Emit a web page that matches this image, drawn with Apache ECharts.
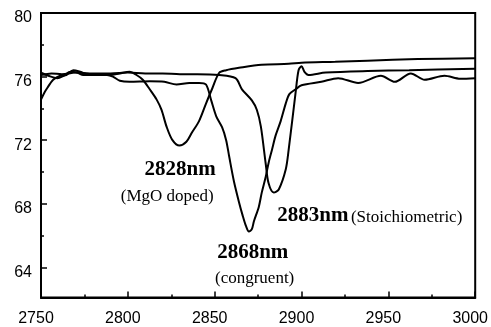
<!DOCTYPE html>
<html><head><meta charset="utf-8">
<script src="https://cdn.jsdelivr.net/npm/echarts@6/dist/echarts.min.js"></script>
<style>html,body{margin:0;padding:0;background:#fff}#c{width:491px;height:327px}</style>
</head><body><div id="c"></div>
<script>
// Axis ticks
const xTickStep = 50;
const yTicks = [64, 68, 72, 76, 80];
const yMinorTicks = [66, 70, 74, 78];

// MgO doped (absorption dip at 2828 nm)
const mgoX = [2750, 2752, 2753.7, 2757, 2761, 2764.6, 2768.6, 2772.6, 2778, 2784, 2789.7, 2795.4, 2801, 2805, 2808.6, 2812.6, 2816.6, 2819.4, 2822.3, 2825.7, 2829.7, 2833.7, 2837, 2841, 2845, 2848.6, 2852.6, 2856.6, 2864, 2877, 2892.6, 2900, 2919.4, 2938, 2966.9, 3000];
const mgoY = [74.55, 75.0, 75.3, 75.8, 76.05, 76.1, 76.4, 76.3, 76.1, 76.15, 76.1, 76.2, 76.3, 76.1, 75.8, 75.2, 74.55, 73.9, 72.85, 72.0, 71.66, 71.9, 72.5, 73.2, 74.3, 75.25, 76.24, 76.4, 76.55, 76.75, 76.8, 76.87, 76.93, 77.0, 77.1, 77.15];

// Congruent (dip at 2868 nm)
const congX = [2750, 2754.3, 2759.4, 2763, 2767, 2771, 2774.3, 2781, 2788, 2791.4, 2795.4, 2801, 2812.6, 2821, 2828, 2835.4, 2841, 2845, 2848, 2850.9, 2854.3, 2856.6, 2858.3, 2861.1, 2864, 2866, 2868, 2869.7, 2871.4, 2872.6, 2875.4, 2877.1, 2879.4, 2881.1, 2883, 2885.1, 2888, 2890.9, 2893, 2896.6, 2900, 2911.4, 2921.1, 2932.6, 2945.7, 2953.7, 2962.9, 2970.9, 2982.3, 2991.4, 3000];
const congY = [76.24, 76.05, 75.9, 76.05, 76.3, 76.24, 76.1, 76.1, 76.1, 76.0, 75.74, 75.67, 75.7, 75.67, 75.5, 75.6, 75.6, 75.5, 74.5, 73.5, 72.8, 72.0, 71.0, 69.4, 68.1, 67.3, 66.6, 66.25, 66.4, 66.9, 67.8, 68.7, 69.7, 70.6, 71.4, 72.3, 73.2, 74.3, 74.9, 75.2, 75.45, 75.67, 75.9, 75.6, 76.05, 75.67, 76.2, 75.8, 76.05, 75.86, 75.9];

// Stoichiometric (dip at 2883 nm)
const stoiX = [2750, 2756, 2762, 2770, 2778, 2790, 2800, 2810, 2820, 2830, 2840, 2852.6, 2862, 2865.7, 2871.4, 2874.3, 2876.6, 2879.4, 2881, 2884, 2886.9, 2890.9, 2892.6, 2896.6, 2898.3, 2900, 2901.7, 2904, 2914, 2938, 2962, 3000];
const stoiY = [76.1, 76.2, 76.15, 76.25, 76.2, 76.2, 76.25, 76.2, 76.2, 76.15, 76.15, 76.1, 75.9, 75.2, 74.5, 73.9, 72.85, 70.5, 69.3, 68.7, 68.9, 70.15, 71.4, 75.0, 76.4, 76.65, 76.3, 76.1, 76.25, 76.35, 76.4, 76.5];

// Annotation texts and their anchors (data coordinates)
const peakLabels = [
  { text: '2828nm', x: 2830.1, y: 70.14 },
  { text: '2868nm', x: 2871.9, y: 64.93 },
  { text: '2883nm', x: 2906.5, y: 67.26 }
];
const sampleLabels = [
  { text: '(MgO doped)', x: 2822.7, y: 68.45 },
  { text: '(congruent)', x: 2873.0, y: 63.3 },
  { text: '(Stoichiometric)', x: 2960.5, y: 67.13 }
];

const zip = (xs, ys) => xs.map((x, i) => [x, ys[i]]);
const lineSeries = (name, xs, ys) => ({
  name, type: 'line', data: zip(xs, ys), symbol: 'none', smooth: 0.3,
  lineStyle: { color: '#000', width: 2 }, z: 3, silent: true
});
const labelSeries = (arr, font) => {
  const lbl = Object.assign({ show: true, position: 'inside', color: '#000', opacity: 1, textBorderWidth: 0, fontFamily: 'Liberation Serif' }, font);
  return {
    type: 'scatter', symbolSize: 0, silent: true, z: 5,
    itemStyle: { color: '#000', opacity: 1 },
    emphasis: { disabled: true },
    data: arr.map(a => ({ value: [a.x, a.y], label: Object.assign({}, lbl, { formatter: a.text }) })),
    label: lbl
  };
};

const chart = echarts.init(document.getElementById('c'), null, { renderer: 'canvas' });
chart.setOption({
  animation: false,
  backgroundColor: '#fff',
  grid: { left: 41, right: 13, top: 13, bottom: 29.5, show: true, borderColor: '#000', borderWidth: 2, backgroundColor: 'transparent' },
  xAxis: {
    type: 'value', min: 2750, max: 3000, interval: xTickStep,
    axisLine: { show: true, lineStyle: { color: '#000', width: 2 } },
    axisTick: { show: true, inside: true, length: 6, lineStyle: { color: '#000', width: 1.5 } },
    minorTick: { show: true, splitNumber: 2, length: 3, lineStyle: { color: '#000', width: 1.5 } },
    splitLine: { show: false },
    axisLabel: { formatter: v => String(v), color: '#000', fontFamily: 'Liberation Sans', fontSize: 16, margin: 13, padding: [0, 10, 0, 0] }
  },
  yAxis: [{
    type: 'value', min: 62.1, max: 80,
    axisLine: { show: true, lineStyle: { color: '#000', width: 2 } },
    axisTick: { show: true, inside: true, length: 6, customValues: yTicks, lineStyle: { color: '#000', width: 1.5 } },
    splitLine: { show: false },
    axisLabel: { customValues: yTicks, formatter: v => String(v), color: '#000', fontFamily: 'Liberation Sans', fontSize: 16, margin: 9, verticalAlign: 'top', lineHeight: 10 }
  }, {
    type: 'value', min: 62.1, max: 80, position: 'left',
    axisLine: { show: false },
    axisTick: { show: true, inside: true, length: 3, customValues: yMinorTicks, lineStyle: { color: '#000', width: 1.5 } },
    splitLine: { show: false },
    axisLabel: { show: false, customValues: yMinorTicks }
  }],
  series: [
    lineSeries('MgO doped', mgoX, mgoY),
    lineSeries('congruent', congX, congY),
    lineSeries('Stoichiometric', stoiX, stoiY),
    labelSeries(peakLabels, { fontSize: 21, fontWeight: 'bold' }),
    labelSeries(sampleLabels, { fontSize: 17 })
  ]
});
</script></body></html>
